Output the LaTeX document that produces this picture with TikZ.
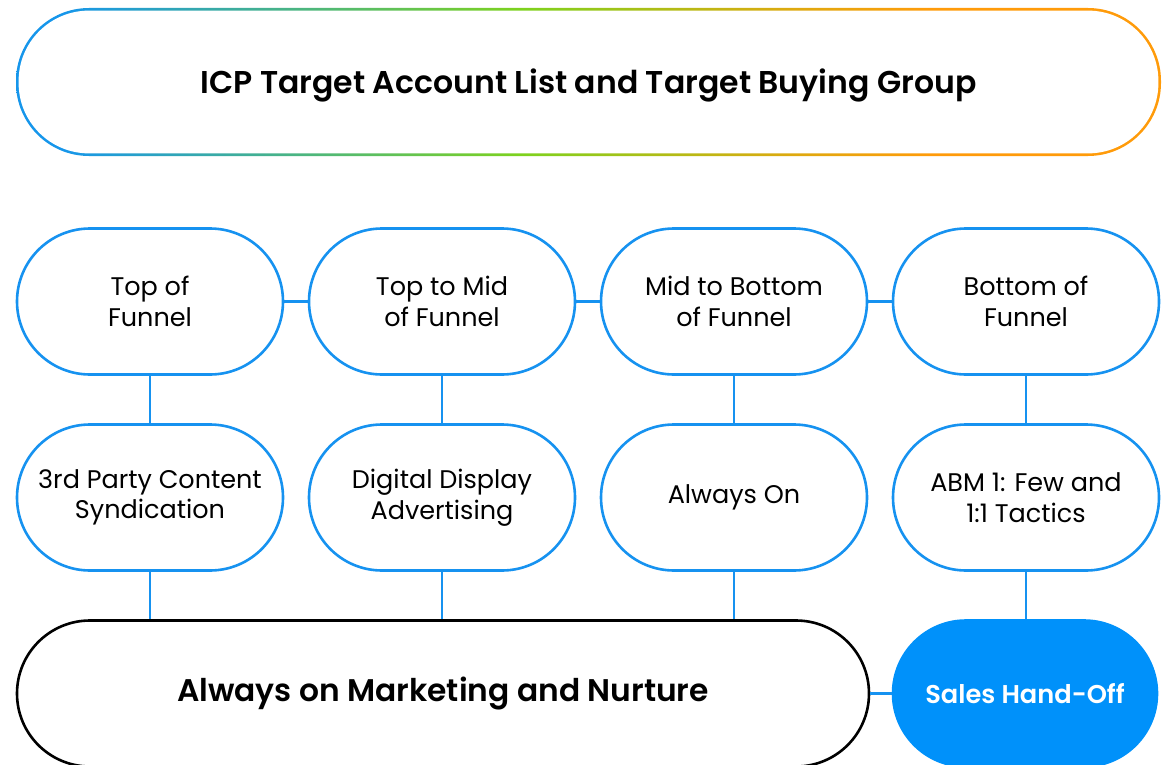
\documentclass[tikz,border=0pt]{standalone}
\usepackage{fontspec}
\setmainfont{Poppins}[BoldFont={Poppins SemiBold}]
\definecolor{cblue}{RGB}{22,146,240}
\definecolor{sfill}{RGB}{0,145,250}
\definecolor{gblue}{RGB}{22,150,235}
\definecolor{ggreen}{RGB}{125,210,30}
\definecolor{gorange}{RGB}{255,155,10}
\pgfdeclarehorizontalshading{topgrad}{100bp}{color(0bp)=(gblue); color(27bp)=(gblue); color(47bp)=(ggreen); color(59bp)=(gorange!75!ggreen); color(65bp)=(gorange); color(100bp)=(gorange)}
\tikzset{
  stage/.style={draw=cblue, line width=2.6pt, fill=white, rounded corners=73pt,
    minimum width=266pt, minimum height=146pt, align=center,
    font=\fontsize{25.5}{30.5}\selectfont, inner sep=0pt},
  conn/.style={draw=cblue, line width=2.6pt},
}
\begin{document}
\begin{tikzpicture}[x=1pt,y=-1pt]
\useasboundingbox (0,0) rectangle (1175,765);
% top gradient box
\shade[shading=topgrad, rounded corners=73pt] (16,8) rectangle (1161,156);
\fill[white, rounded corners=70.4pt] (18.6,10.6) rectangle (1158.4,153.4);
\node[font=\fontsize{31.5}{33}\selectfont\bfseries] (icp) at (588.5,85) {ICP Target Account List and Target Buying Group};
% row 1
\node[stage] (t1) at (150,301.5) {Top of\\Funnel};
\node[stage] (t2) at (442,301.5) {Top to Mid\\of Funnel};
\node[stage] (t3) at (734,301.5) {Mid to Bottom\\of Funnel};
\node[stage] (t4) at (1026,301.5) {Bottom of\\Funnel};
% row 2
\node[stage] (m1) at (150,497.5) {3rd Party Content\\Syndication};
\node[stage] (m2) at (442,497.5) {Digital Display\\Advertising};
\node[stage] (m3) at (734,497.5) {Always On};
\node[stage] (m4) at (1026,497.5) {ABM 1: Few and\\1:1 Tactics};
% bottom
\node[stage, draw=black, minimum width=852pt, font=\fontsize{31.3}{33}\selectfont\bfseries] (nur) at (443,693.5) {Always on Marketing and Nurture};
\node[stage, fill=sfill, draw=sfill, minimum width=264pt, text=white, font=\fontsize{25.7}{30}\selectfont\bfseries] (sales) at (1025,693.5) {Sales Hand-Off};
% connectors
\draw[conn] (t1.east) -- (t2.west);
\draw[conn] (t2.east) -- (t3.west);
\draw[conn] (t3.east) -- (t4.west);
\draw[conn] (t1.south) -- (m1.north);
\draw[conn] (t2.south) -- (m2.north);
\draw[conn] (t3.south) -- (m3.north);
\draw[conn] (t4.south) -- (m4.north);
\draw[conn] (m1.south) -- (m1.south |- nur.north);
\draw[conn] (m2.south) -- (m2.south |- nur.north);
\draw[conn] (m3.south) -- (m3.south |- nur.north);
\draw[conn] (m4.south) -- (m4.south |- sales.north);
\draw[conn] (nur.east) -- (sales.west);
\end{tikzpicture}
\end{document}
